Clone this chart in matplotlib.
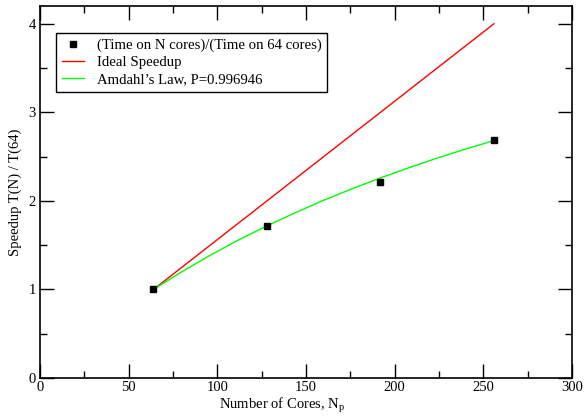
import numpy as np
import matplotlib.pyplot as plt
from matplotlib.ticker import MultipleLocator

plt.rcParams['font.family'] = ['Liberation Serif', 'DejaVu Serif']
plt.rcParams['mathtext.fontset'] = 'custom'
plt.rcParams['mathtext.rm'] = 'Liberation Serif'

# measured speedups relative to 64 cores
cores = [64, 128, 192, 256]
speedup = [1.0, 1.72, 2.21, 2.69]

# ideal line
ideal_n = [64, 256]
ideal_s = [1.0, 4.0]

# Amdahl fit
fit_n = [64, 80, 96, 112, 128, 144, 160, 176, 192, 208, 224, 240, 256]
fit_s = [1.0, 1.20, 1.386, 1.559, 1.718, 1.867, 2.007, 2.137, 2.259, 2.374, 2.483, 2.585, 2.681]

fig = plt.figure(figsize=(5.84, 4.16), dpi=100)
ax = fig.add_axes([40/584, 1 - 378/416, 532/584, 372/416])

ax.plot(cores, speedup, 's', color='black', markersize=5, linestyle='none',
        label='(Time on N cores)/(Time on 64 cores)', zorder=3)
ax.plot(ideal_n, ideal_s, color='#ff0000', lw=1, label='Ideal Speedup')
ax.plot(fit_n, fit_s, color='#00ff00', lw=1, label="Amdahl\u2019s Law, P=0.996946")

ax.set_xlim(0, 300)
ax.set_ylim(0, 4.2)
ax.xaxis.set_major_locator(MultipleLocator(50))
ax.xaxis.set_minor_locator(MultipleLocator(25))
ax.yaxis.set_major_locator(MultipleLocator(1))
ax.yaxis.set_minor_locator(MultipleLocator(0.5))
ax.tick_params(which='both', direction='in', top=True, right=True, labelsize=10.5, width=1)
ax.tick_params(which='major', length=10)
ax.tick_params(which='minor', length=5)
ax.tick_params(axis='x', pad=2)
ax.tick_params(axis='y', pad=3)
for s in ax.spines.values():
    s.set_linewidth(1.2)

ax.set_xlabel('Number of Cores, N$_{\\mathrm{p}}$', fontsize=10.5)
ax.xaxis.set_label_coords(0.455, -0.048)
ax.set_ylabel('Speedup T(N) / T(64)', fontsize=10.5)
ax.yaxis.set_label_coords(-0.034, 0.5)

leg = ax.legend(loc='upper left', bbox_to_anchor=(0.030, 0.927), borderaxespad=0,
                fontsize=10.6, fancybox=False, edgecolor='black', framealpha=1,
                handlelength=1.5, handletextpad=0.9, borderpad=0.38, labelspacing=0.25,
                markerscale=0.8)
leg.get_frame().set_linewidth(1)

fig.savefig('out.png', dpi=100)
